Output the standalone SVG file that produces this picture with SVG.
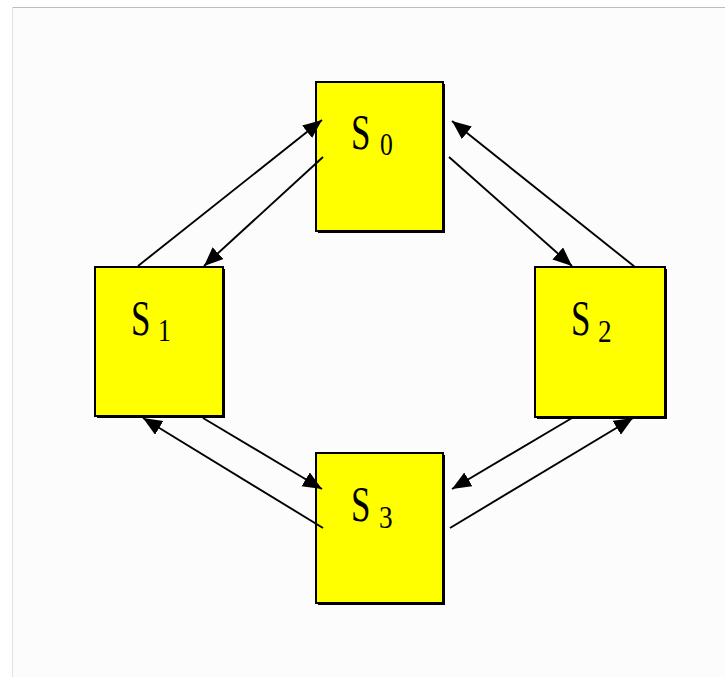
<svg xmlns="http://www.w3.org/2000/svg" width="725" height="677" viewBox="0 0 725 677">
<style>
.box{fill:#ffff00;stroke:#000;stroke-width:2}
.shadow{fill:#000}
.lbl{font-family:"Liberation Serif",serif;font-size:50px;fill:#000}
.sub{font-family:"Liberation Serif",serif;font-size:32px;fill:#000}
.conn line{stroke:#000;stroke-width:1.9;marker-end:url(#ah)}
</style>
<defs>
<marker id="ah" markerUnits="userSpaceOnUse" markerWidth="22" markerHeight="18" refX="19" refY="8" orient="auto">
<path d="M0,0 L19,8 L0,16 z" fill="#000"/>
</marker>
</defs>
<rect x="0" y="0" width="725" height="677" fill="#fff"/>
<rect x="12" y="7" width="713" height="670" fill="#fcfcfc"/>
<line x1="12" y1="7.5" x2="725" y2="7.5" stroke="#bcbcbc" stroke-width="1"/>
<line x1="12.5" y1="7" x2="12.5" y2="677" stroke="#e2e2e2" stroke-width="1"/>
<g id="S0">
<rect class="shadow" x="318" y="84" width="127" height="149"/>
<rect class="box" x="316" y="82" width="127" height="149"/>
<text class="lbl" transform="translate(351,149) scale(0.7,1)">S</text>
<text class="sub" transform="translate(380,155) scale(0.8,1)">0</text>
</g>
<g id="S1">
<rect class="shadow" x="97" y="269" width="128" height="149"/>
<rect class="box" x="95" y="267" width="128" height="149"/>
<text class="lbl" transform="translate(131,335) scale(0.7,1)">S</text>
<text class="sub" transform="translate(158,341) scale(0.8,1)">1</text>
</g>
<g id="S2">
<rect class="shadow" x="537" y="269" width="130" height="150"/>
<rect class="box" x="535" y="267" width="130" height="150"/>
<text class="lbl" transform="translate(571,335) scale(0.7,1)">S</text>
<text class="sub" transform="translate(598,342) scale(0.85,1)">2</text>
</g>
<g id="S3">
<rect class="shadow" x="318" y="455" width="127" height="150"/>
<rect class="box" x="316" y="453" width="127" height="150"/>
<text class="lbl" transform="translate(351,521) scale(0.7,1)">S</text>
<text class="sub" transform="translate(379,528) scale(0.85,1)">3</text>
</g>
<g class="conn" id="connectors">
<line x1="138" y1="266" x2="322" y2="120"/>
<line x1="323" y1="157" x2="204" y2="266"/>
<line x1="635" y1="267" x2="452" y2="121"/>
<line x1="449" y1="157" x2="572" y2="266"/>
<line x1="323" y1="528" x2="143" y2="418"/>
<line x1="203" y1="418" x2="322" y2="489"/>
<line x1="572" y1="418" x2="452" y2="489"/>
<line x1="450" y1="528" x2="633" y2="418"/>
</g>
</svg>
